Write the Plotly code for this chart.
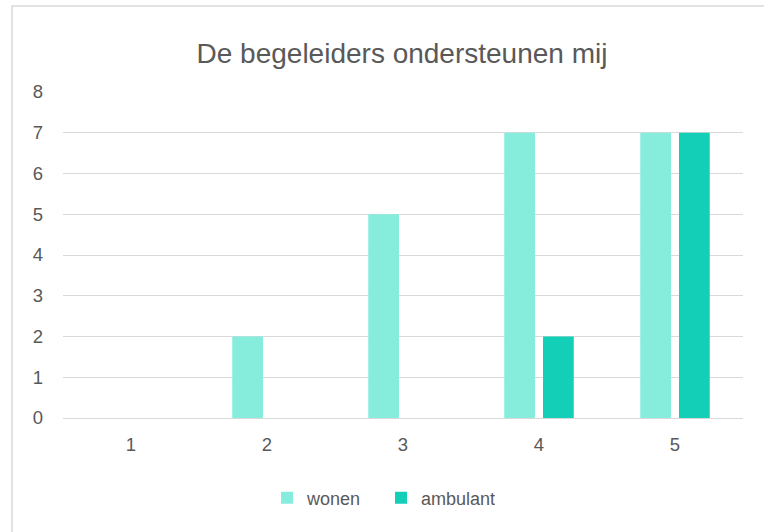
import plotly.graph_objects as go

categories = ["1", "2", "3", "4", "5"]
wonen = [0, 2, 5, 7, 7]
ambulant = [0, 0, 0, 2, 7]
y_ticks = [0, 1, 2, 3, 4, 5, 6, 7, 8]

W, H = 764, 532
L, R, T, B = 63, 21, 92, 114
pw, ph = W - L - R, H - T - B

def px_x(x):
    return (x - L) / pw

def px_y(y):
    return (H - B - y) / ph

fig = go.Figure()
fig.add_trace(go.Bar(x=categories, y=wonen, name="wonen", marker=dict(color="#86ecdc", line=dict(width=0))))
fig.add_trace(go.Bar(x=categories, y=ambulant, name="ambulant", marker=dict(color="#13cfb8", line=dict(width=0))))

font = "Liberation Sans, Arial, sans-serif"
fig.update_layout(
    width=W, height=H,
    margin=dict(l=L, r=R, t=T, b=B, autoexpand=False),
    paper_bgcolor="white", plot_bgcolor="white",
    barmode="group", bargap=0.43, bargroupgap=0.207,
    title=dict(text="De begeleiders ondersteunen mij", xref="container", x=402 / W, xanchor="center",
               yref="container", y=1 - 53 / H, yanchor="middle",
               font=dict(family=font, size=28, color="#595959")),
    font=dict(family=font, size=18, color="#595959"),
    xaxis=dict(type="category", showgrid=False, showline=False, zeroline=False, ticks="",
               tickfont=dict(size=18.5, color="#595959"), ticklabelstandoff=13),
    yaxis=dict(range=[0, 8], tickvals=y_ticks, showgrid=True, gridcolor="#d9d9d9", gridwidth=1,
               zeroline=True, zerolinecolor="#d9d9d9", zerolinewidth=1, showline=False, ticks="",
               tickfont=dict(size=18.5, color="#595959"), ticklabelstandoff=19),
    legend=dict(orientation="h", x=px_x(267), xanchor="left", y=px_y(498), yanchor="middle",
                font=dict(size=18, color="#595959"), entrywidth=69, entrywidthmode="pixels",
                traceorder="normal", bgcolor="rgba(0,0,0,0)"),
    showlegend=True,
)
fig.add_shape(type="rect", xref="paper", yref="paper",
              x0=px_x(12), x1=px_x(800), y0=px_y(560), y1=px_y(6),
              line=dict(color="#d9d9d9", width=1.5), fillcolor="rgba(0,0,0,0)", layer="below")

fig.write_html("out.html", config={"displayModeBar": False},
               post_script="document.body.style.margin='0';")
